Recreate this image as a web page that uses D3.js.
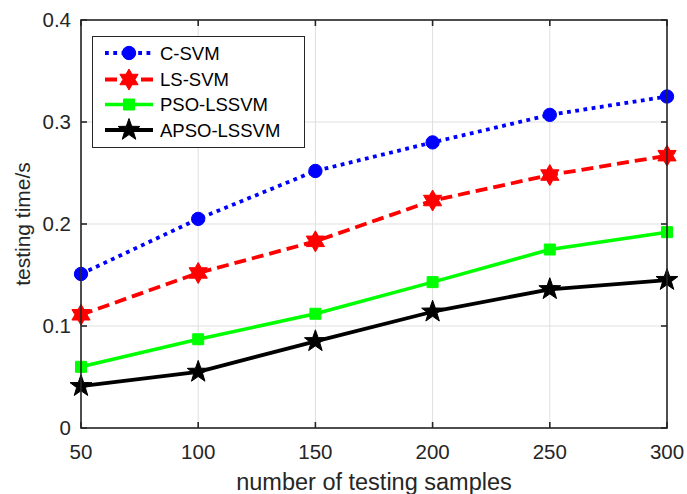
<!DOCTYPE html>
<html>
<head>
<meta charset="utf-8">
<script src="https://cdn.jsdelivr.net/npm/d3@7"></script>
<style>
  html, body { margin: 0; padding: 0; background: #fff; }
  svg { display: block; font-family: "Liberation Sans", Arial, Helvetica, sans-serif; }
</style>
</head>
<body>
<div id="chart"></div>
<script>
const samples = [50, 100, 150, 200, 250, 300];
const cSvm = [0.151, 0.205, 0.252, 0.280, 0.307, 0.325];
const lsSvm = [0.111, 0.152, 0.183, 0.223, 0.248, 0.267];
const psoLssvm = [0.060, 0.087, 0.112, 0.143, 0.175, 0.192];
const apsoLssvm = [0.041, 0.055, 0.085, 0.114, 0.136, 0.145];
const seriesNames = ["C-SVM", "LS-SVM", "PSO-LSSVM", "APSO-LSSVM"];
const xTicks = [50, 100, 150, 200, 250, 300];
const yTicks = [0, 0.1, 0.2, 0.3, 0.4];

const width = 687, height = 494;
const margin = { top: 20, right: 20, bottom: 66, left: 81 };
const axisColor = "#262626";

// series styling (MATLAB-like)
const styles = [
  { color: "#0000ff", dash: "3.8,4.5", width: 3.8, marker: "circle" },
  { color: "#ff0000", dash: "12,6", width: 3.8, marker: "hexagram" },
  { color: "#00ff00", dash: null, width: 3.5, marker: "square" },
  { color: "#000000", dash: null, width: 3.8, marker: "pentagram" }
];
const values = [cSvm, lsSvm, psoLssvm, apsoLssvm];

const x = d3.scaleLinear().domain([50, 300]).range([margin.left, width - margin.right]);
const y = d3.scaleLinear().domain([0, 0.4]).range([height - margin.bottom, margin.top]);

function starPath(n, R, r) {
  const p = d3.path();
  for (let i = 0; i < 2 * n; i++) {
    const a = -Math.PI / 2 + i * Math.PI / n;
    const rad = i % 2 === 0 ? R : r;
    if (i === 0) p.moveTo(rad * Math.cos(a), rad * Math.sin(a));
    else p.lineTo(rad * Math.cos(a), rad * Math.sin(a));
  }
  p.closePath();
  return p.toString();
}

function markerPath(kind) {
  if (kind === "circle") return d3.symbol(d3.symbolCircle, 140)();
  if (kind === "square") return d3.symbol(d3.symbolSquare, 121)();
  if (kind === "hexagram") return starPath(6, 10.5, 10.5 * 0.577);
  return starPath(5, 11.5, 11.5 * 0.4);
}

const svg = d3.select("#chart").append("svg")
  .attr("width", width)
  .attr("height", height);

// grid
const grid = svg.append("g").attr("stroke", "#dfdfdf").attr("stroke-width", 1);
grid.selectAll("line.gx").data(xTicks).join("line")
  .attr("x1", d => x(d)).attr("x2", d => x(d))
  .attr("y1", y(0)).attr("y2", y(0.4));
grid.selectAll("line.gy").data(yTicks).join("line")
  .attr("x1", x(50)).attr("x2", x(300))
  .attr("y1", d => y(d)).attr("y2", d => y(d));

// lines and markers
const line = d3.line()
  .x((d, i) => x(samples[i]))
  .y(d => y(d));

values.forEach((vals, k) => {
  const st = styles[k];
  svg.append("path")
    .datum(vals)
    .attr("fill", "none")
    .attr("stroke", st.color)
    .attr("stroke-width", st.width)
    .attr("stroke-dasharray", st.dash)
    .attr("stroke-linejoin", "round")
    .attr("d", line);
  svg.append("g").selectAll("path")
    .data(vals)
    .join("path")
    .attr("transform", (d, i) => `translate(${x(samples[i])},${y(d)})`)
    .attr("d", markerPath(st.marker))
    .attr("fill", st.color)
    .attr("stroke", st.color)
    .attr("stroke-width", 1);
});

// axes box with inward ticks on all sides
const tickLen = 6;
const axes = svg.append("g").attr("stroke", axisColor).attr("stroke-width", 1.6);
axes.append("rect")
  .attr("x", x(50)).attr("y", y(0.4))
  .attr("width", x(300) - x(50)).attr("height", y(0) - y(0.4))
  .attr("fill", "none");
axes.selectAll("line.tb").data(xTicks).join("line")
  .attr("x1", d => x(d)).attr("x2", d => x(d))
  .attr("y1", y(0)).attr("y2", y(0) - tickLen);
axes.selectAll("line.tt").data(xTicks).join("line")
  .attr("x1", d => x(d)).attr("x2", d => x(d))
  .attr("y1", y(0.4)).attr("y2", y(0.4) + tickLen);
axes.selectAll("line.tl").data(yTicks).join("line")
  .attr("x1", x(50)).attr("x2", x(50) + tickLen)
  .attr("y1", d => y(d)).attr("y2", d => y(d));
axes.selectAll("line.tr").data(yTicks).join("line")
  .attr("x1", x(300)).attr("x2", x(300) - tickLen)
  .attr("y1", d => y(d)).attr("y2", d => y(d));

// tick labels
svg.append("g").selectAll("text").data(xTicks).join("text")
  .attr("x", d => x(d))
  .attr("y", y(0) + 31)
  .attr("text-anchor", "middle")
  .attr("font-size", 20.5)
  .attr("fill", axisColor)
  .text(d => d);
svg.append("g").selectAll("text").data(yTicks).join("text")
  .attr("x", x(50) - 10)
  .attr("y", d => y(d) + 7)
  .attr("text-anchor", "end")
  .attr("font-size", 20.5)
  .attr("fill", axisColor)
  .text(d => d === 0 ? "0" : d3.format(".1f")(d));

// axis labels
svg.append("text")
  .attr("x", (x(50) + x(300)) / 2)
  .attr("y", 490)
  .attr("text-anchor", "middle")
  .attr("font-size", 23.5)
  .attr("fill", axisColor)
  .text("number of testing samples");
svg.append("text")
  .attr("transform", `translate(30,${(y(0) + y(0.4)) / 2}) rotate(-90)`)
  .attr("text-anchor", "middle")
  .attr("font-size", 21)
  .attr("fill", axisColor)
  .text("testing time/s");

// legend
const legend = svg.append("g").attr("transform", "translate(92.5,36.5)");
legend.append("rect")
  .attr("width", 212).attr("height", 111)
  .attr("fill", "#fff")
  .attr("stroke", axisColor)
  .attr("stroke-width", 1);
const rowY = [16.5, 43, 68, 93.5];
seriesNames.forEach((name, k) => {
  const st = styles[k];
  const g = legend.append("g").attr("transform", `translate(0,${rowY[k]})`);
  g.append("line")
    .attr("x1", 12.5).attr("x2", 60.5)
    .attr("stroke", st.color)
    .attr("stroke-width", st.width)
    .attr("stroke-dasharray", st.dash);
  g.append("path")
    .attr("transform", "translate(36.5,0)")
    .attr("d", markerPath(st.marker))
    .attr("fill", st.color)
    .attr("stroke", st.color);
  g.append("text")
    .attr("x", 67.5)
    .attr("y", 6.5)
    .attr("font-size", 18.5)
    .attr("fill", "#000")
    .text(name);
});
</script>
</body>
</html>
